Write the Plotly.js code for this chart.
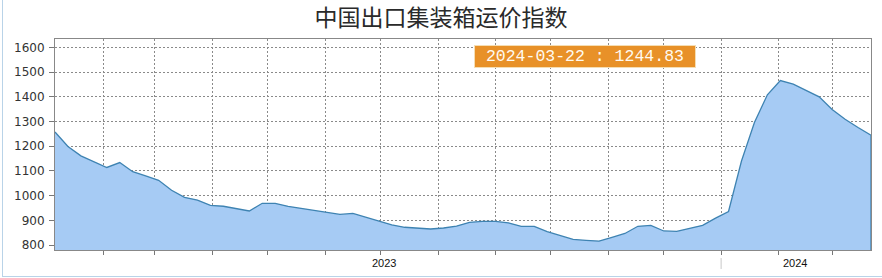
<!DOCTYPE html>
<html>
<head>
<meta charset="utf-8">
<script src="https://cdn.plot.ly/plotly-3.0.1.min.js"></script>
<style>
  html, body { margin: 0; padding: 0; background: #fff; }
  #wrap { position: relative; width: 882px; height: 278px; }
  #chart { width: 882px; height: 278px; }
  #bl { position: absolute; left: 2px; top: 0; width: 1px; height: 277px; background: #b9d3e8; }
  #bb { position: absolute; left: 2px; top: 276px; width: 880px; height: 1px; background: #b9d3e8; }
</style>
</head>
<body>
<div id="wrap">
  <div id="chart"></div>
  <div id="bl"></div>
  <div id="bb"></div>
</div>
<script>
const chartTitle = '中国出口集装箱运价指数';

const dates = [
  '2023-01-06','2023-01-13','2023-01-20','2023-01-27','2023-02-03','2023-02-10','2023-02-17','2023-02-24',
  '2023-03-03','2023-03-10','2023-03-17','2023-03-24','2023-03-31','2023-04-07','2023-04-14','2023-04-21',
  '2023-04-28','2023-05-05','2023-05-12','2023-05-19','2023-05-26','2023-06-02','2023-06-09','2023-06-16',
  '2023-06-23','2023-06-30','2023-07-07','2023-07-14','2023-07-21','2023-07-28','2023-08-04','2023-08-11',
  '2023-08-18','2023-08-25','2023-09-01','2023-09-08','2023-09-15','2023-09-22','2023-09-29','2023-10-06',
  '2023-10-13','2023-10-20','2023-10-27','2023-11-03','2023-11-10','2023-11-17','2023-11-24','2023-12-01',
  '2023-12-08','2023-12-15','2023-12-22','2023-12-29','2024-01-05','2024-01-12','2024-01-19','2024-01-26',
  '2024-02-02','2024-02-09','2024-02-16','2024-02-23','2024-03-01','2024-03-08','2024-03-15','2024-03-22'
];

const indexValues = [
  1258, 1199, 1161, 1136, 1114, 1134, 1097, 1080,
  1062, 1022, 993, 982, 961, 957, 946, 938,
  969, 969, 957, 948, 940, 932, 924, 928,
  912, 896, 882, 872, 868, 865, 869, 877,
  892, 896, 896, 890, 876, 876, 854, 838,
  823, 819, 816, 831, 847, 876, 880, 857,
  855, 868, 880, 909, 936, 1140, 1296, 1408,
  1466, 1451, 1426, 1400, 1349, 1309, 1276, 1244.83
];

const monthTicks = [
  '2023-02-01','2023-03-01','2023-04-01','2023-05-01','2023-06-01','2023-07-01','2023-08-01',
  '2023-09-01','2023-10-01','2023-11-01','2023-12-01','2024-01-01','2024-02-01','2024-03-01'
];
const yearLabels = ['2023', '2024'];
const yearLabelDates = ['2023-07-03', '2024-02-10'];
const yearBoundary = '2024-01-01';
const yTicks = [800, 900, 1000, 1100, 1200, 1300, 1400, 1500, 1600];

const yBottom = 780;
const yTop = 1634;

// closed area polygon built from the data
const polyX = dates.concat([dates[dates.length - 1], dates[0]]);
const polyY = indexValues.concat([0, 0]);

const areaTrace = {
  type: 'scatter',
  mode: 'lines',
  x: polyX,
  y: polyY,
  fill: 'toself',
  fillcolor: 'rgb(166,203,244)',
  line: { color: 'rgb(62,131,178)', width: 1.3 },
  hoverinfo: 'skip',
  showlegend: false
};

const lastLabel = ' ' + dates[dates.length - 1] + ' : ' + indexValues[indexValues.length - 1].toFixed(2) + ' ';

const annotations = [
  {
    xref: 'paper', yref: 'paper', x: 0.6495, y: 0.919,
    xanchor: 'center', yanchor: 'middle',
    text: lastLabel, showarrow: false,
    font: { family: 'Liberation Mono, DejaVu Sans Mono, monospace', size: 16.5, color: '#fffaf0' },
    bgcolor: 'rgb(232,145,40)', bordercolor: 'rgb(245,222,180)', borderwidth: 1, borderpad: 1
  }
];
yearLabels.forEach((t, i) => {
  annotations.push({
    xref: 'x', yref: 'paper', x: yearLabelDates[i], y: -0.063,
    xanchor: 'center', yanchor: 'middle', text: t, showarrow: false,
    font: { family: 'Liberation Sans, Arial, sans-serif', size: 11, color: '#111' }
  });
});

const layout = {
  width: 882, height: 278,
  margin: { l: 55, r: 11, t: 39, b: 28 },
  paper_bgcolor: '#ffffff',
  plot_bgcolor: '#ffffff',
  showlegend: false,
  title: {
    text: chartTitle,
    xref: 'container', yref: 'container', x: 0.5, y: 0.935,
    xanchor: 'center', yanchor: 'middle',
    font: { family: 'Noto Sans CJK SC, sans-serif', size: 23, color: '#2a2a2a', weight: 'normal' }
  },
  xaxis: {
    type: 'date',
    range: [dates[0], dates[dates.length - 1]],
    tickvals: monthTicks,
    ticktext: monthTicks.map(() => ''),
    ticks: 'outside', ticklen: 4, tickcolor: '#777', tickwidth: 1,
    showgrid: true, gridcolor: '#8a8a8a', griddash: '2px,2px', gridwidth: 1,
    showline: true, linecolor: '#888', linewidth: 1, mirror: true,
    zeroline: false, fixedrange: true
  },
  yaxis: {
    range: [yBottom, yTop],
    tickvals: yTicks,
    ticktext: yTicks.map(String),
    ticks: 'outside', ticklen: 5, tickcolor: '#777', tickwidth: 1,
    ticklabelstandoff: 2,
    tickfont: { family: 'DejaVu Sans, sans-serif', size: 12, color: '#333' },
    showgrid: true, gridcolor: '#8a8a8a', griddash: '2px,2px', gridwidth: 1,
    showline: true, linecolor: '#888', linewidth: 1, mirror: true,
    zeroline: false, fixedrange: true
  },
  shapes: [
    {
      type: 'line', xref: 'x', yref: 'paper',
      x0: yearBoundary, x1: yearBoundary, y0: -0.038, y1: -0.09,
      line: { color: '#c8c8c8', width: 1 }
    }
  ],
  annotations: annotations
};

Plotly.newPlot('chart', [areaTrace], layout, { displayModeBar: false, staticPlot: true });
</script>
</body>
</html>
